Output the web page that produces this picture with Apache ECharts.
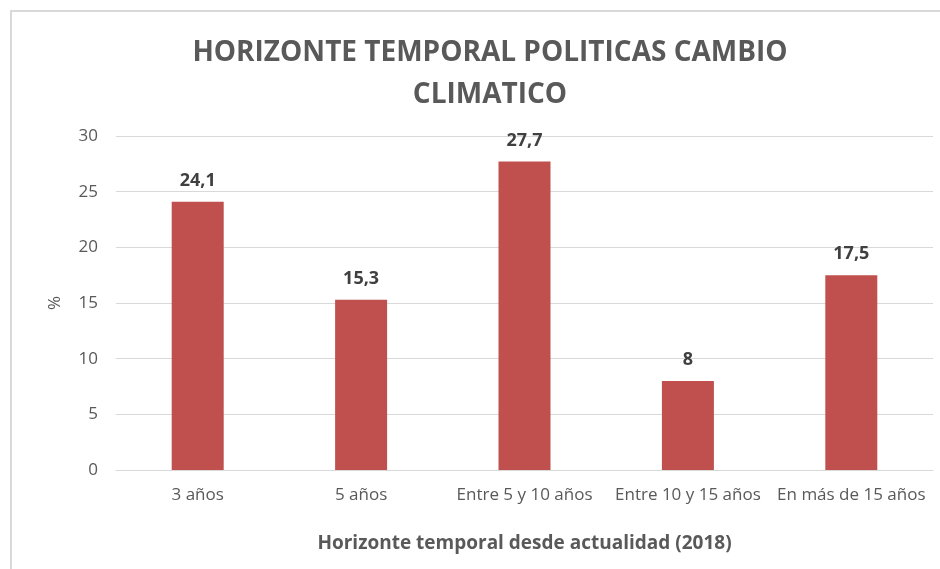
<!DOCTYPE html>
<html><head><meta charset="utf-8">
<script src="https://cdn.jsdelivr.net/npm/echarts@6/dist/echarts.min.js"></script>
<style>html,body{margin:0;padding:0;background:#fff}#c{width:940px;height:569px}</style>
</head><body><div id="c"></div>
<script>
const categories = ['3 años','5 años','Entre 5 y 10 años','Entre 10 y 15 años','En más de 15 años'];
const values = [24.1, 15.3, 27.7, 8, 17.5];
const titleLines = ['HORIZONTE TEMPORAL POLITICAS CAMBIO','CLIMATICO'];
const xTitle = 'Horizonte temporal desde actualidad (2018)';
const yTitle = '%';

const chart = echarts.init(document.getElementById('c'));
const font = "'Open Sans', 'Liberation Sans', sans-serif";
chart.setOption({
  animation:false,
  title:{text:titleLines.join('\n'),left:485,top:27,textAlign:'center',
    textStyle:{fontFamily:font,fontSize:28,fontWeight:'bold',color:'#595959',lineHeight:42}},
  graphic:[{type:'rect',shape:{x:11,y:11,width:940,height:600},style:{fill:'none',stroke:'#d9d9d9',lineWidth:2},silent:true}],
  grid:{left:116,right:7,top:136,bottom:99},
  xAxis:{type:'category',data:categories,
    axisLine:{lineStyle:{color:'#d9d9d9'}},axisTick:{show:false},
    axisLabel:{fontFamily:font,fontSize:17,color:'#595959',margin:17,interval:0},
    name:xTitle,nameLocation:'middle',nameGap:64,
    nameTextStyle:{fontFamily:font,fontSize:19,fontWeight:'bold',color:'#595959'}},
  yAxis:{type:'value',min:0,max:30,interval:5,
    axisLine:{show:false},axisTick:{show:false},
    splitLine:{lineStyle:{color:'#d9d9d9'}},
    axisLabel:{fontFamily:font,fontSize:17,color:'#595959',margin:18},
    name:yTitle,nameLocation:'middle',nameGap:52,nameRotate:90,
    nameTextStyle:{fontFamily:font,fontSize:17,color:'#595959'}},
  series:[{type:'bar',data:values,barWidth:52,itemStyle:{color:'#C0504D'},
    label:{show:true,position:'top',distance:12,fontFamily:font,fontSize:18,fontWeight:'bold',color:'#404040',
      formatter:p=>String(p.value).replace('.',',')}}]
});
</script></body></html>
